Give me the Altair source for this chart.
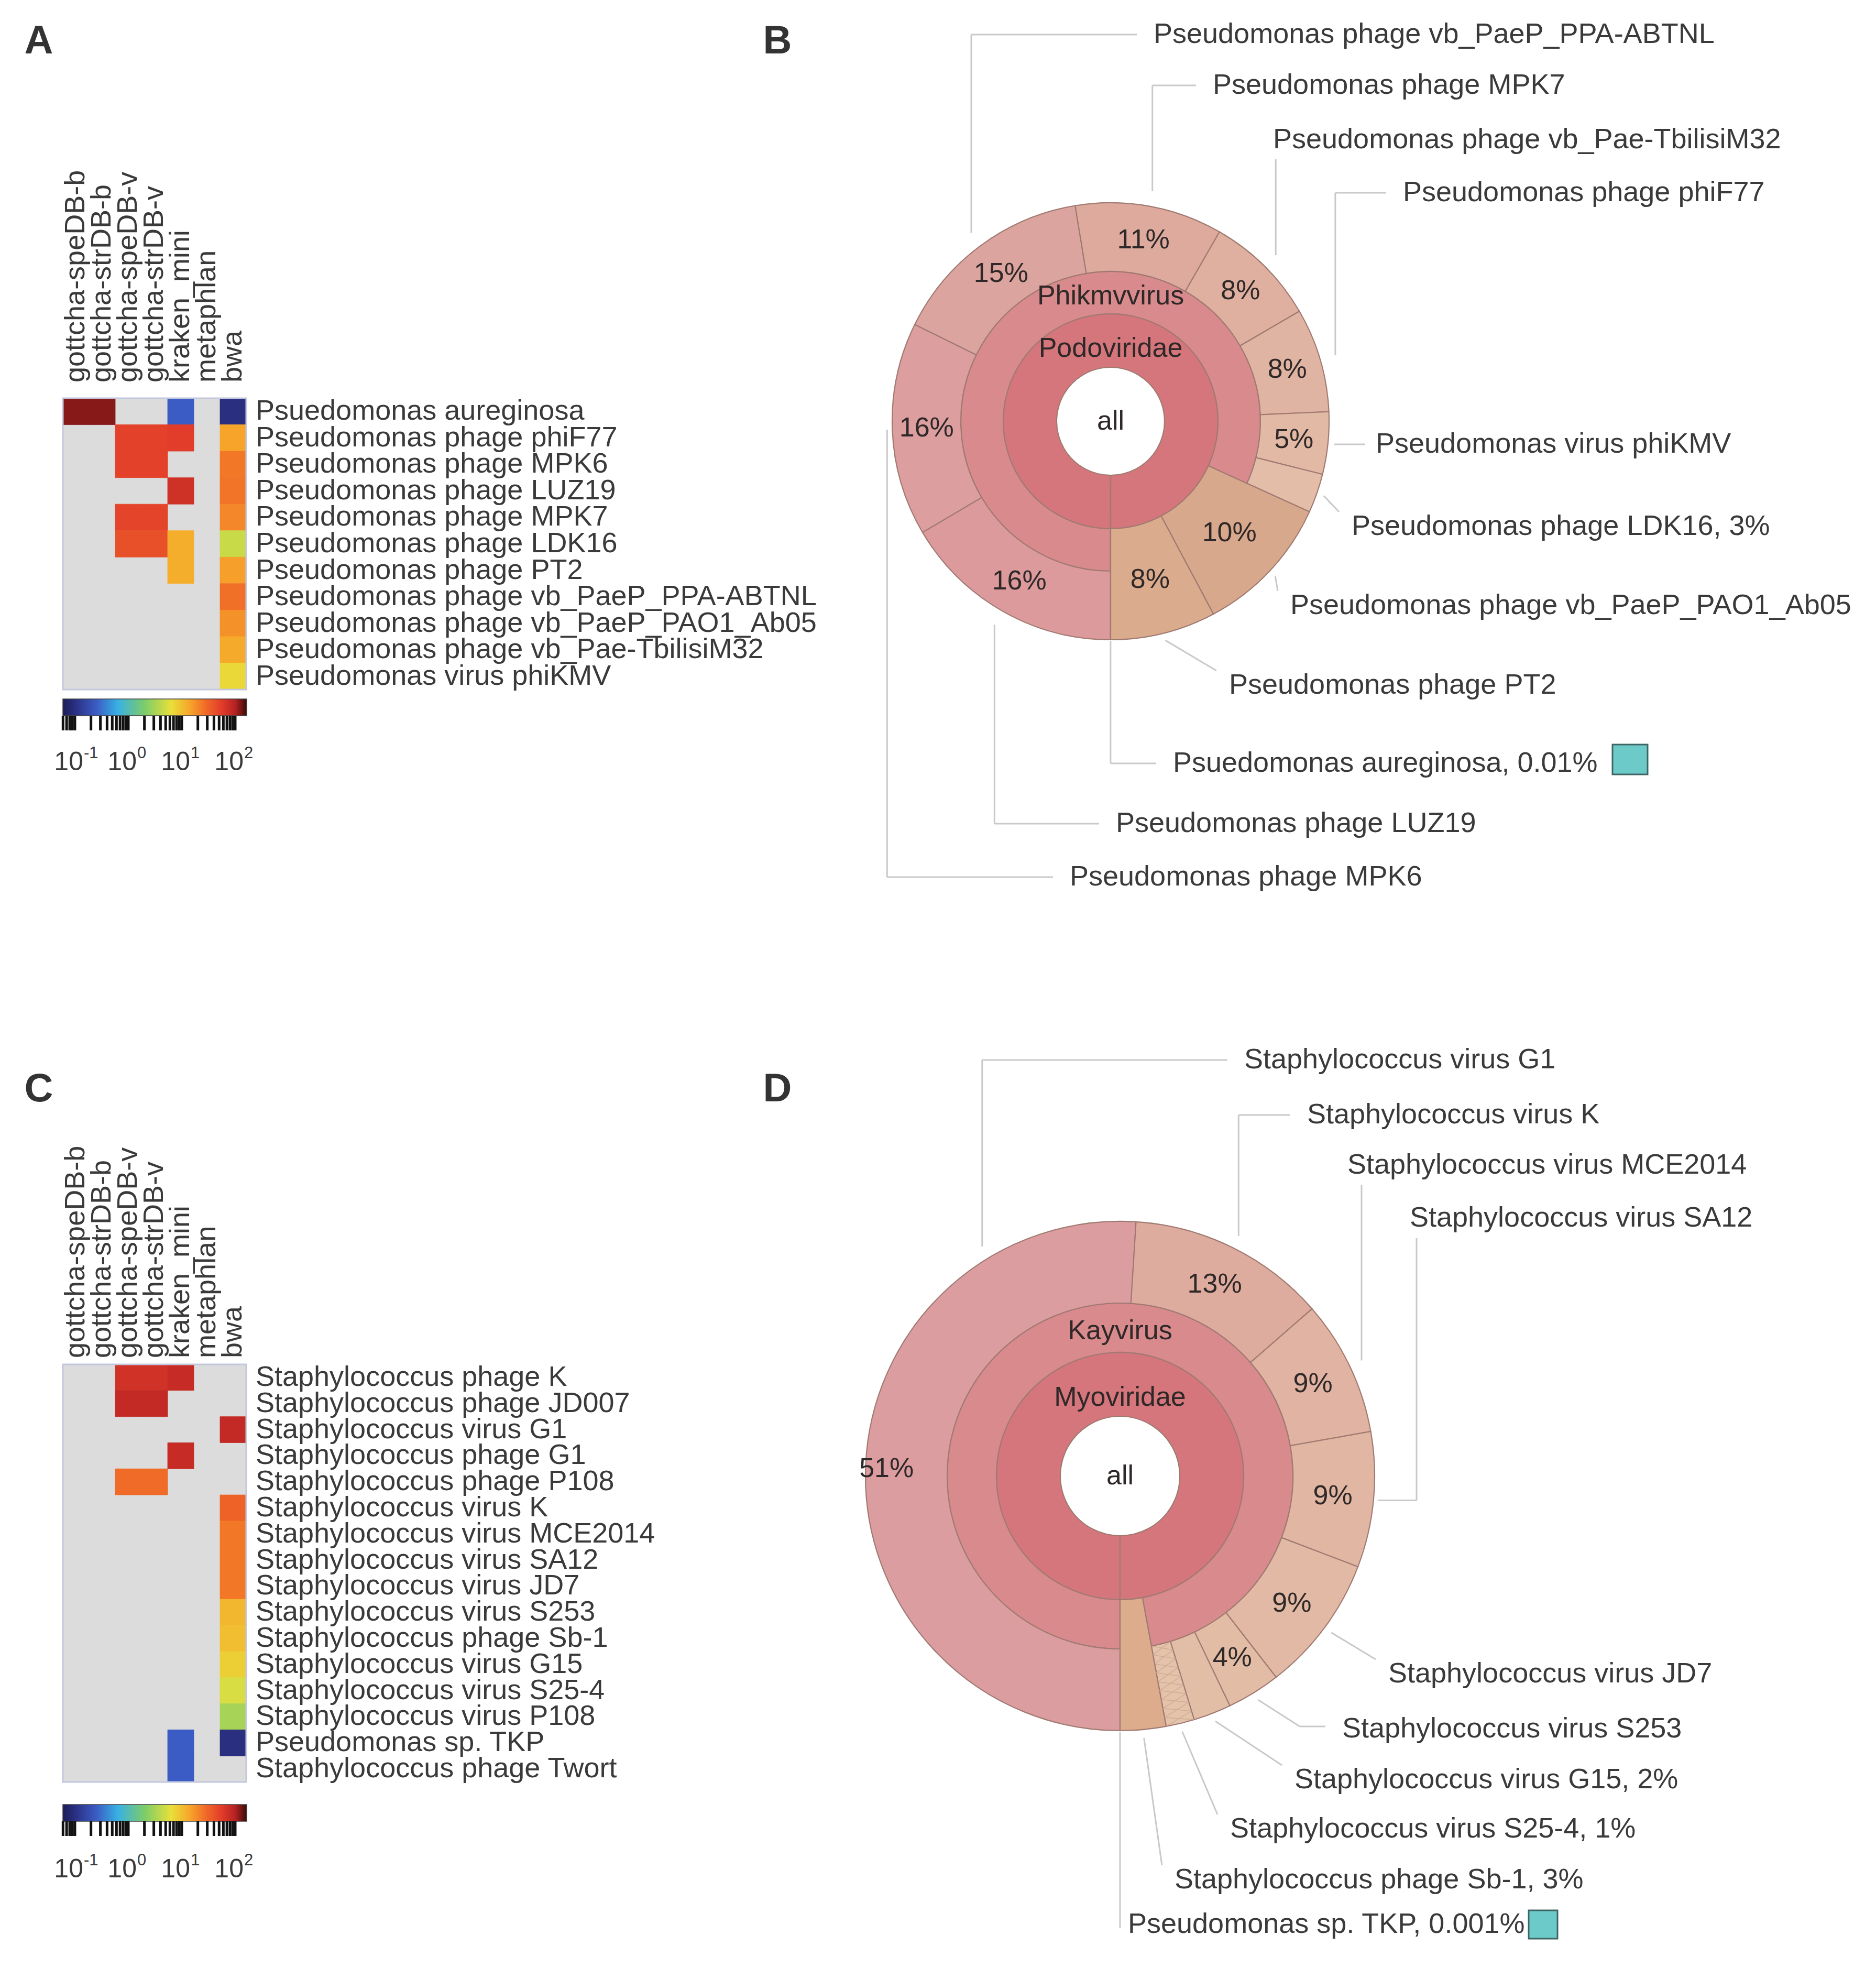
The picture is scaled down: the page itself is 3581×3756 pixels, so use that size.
import math
import altair as alt
import pandas as pd

W, H = 3565, 3740          # plot area = page minus the 8px margin
M = 8                      # page margin (reference pixel coords are shifted by this)
FONT = "Liberation Sans"
INK = "#3a3a3a"
INK2 = "#2e2828"

# ====================== DATA ======================
tools = ["gottcha-speDB-b", "gottcha-strDB-b", "gottcha-speDB-v",
         "gottcha-strDB-v", "kraken_mini", "metaphlan", "bwa"]

# ---- panel A heatmap: log10 relative abundance (None = not reported) ----
A_species = ["Psuedomonas aureginosa", "Pseudomonas phage phiF77",
             "Pseudomonas phage MPK6", "Pseudomonas phage LUZ19",
             "Pseudomonas phage MPK7", "Pseudomonas phage LDK16",
             "Pseudomonas phage PT2", "Pseudomonas phage vb_PaeP_PPA-ABTNL",
             "Pseudomonas phage vb_PaeP_PAO1_Ab05",
             "Pseudomonas phage vb_Pae-TbilisiM32", "Pseudomonas virus phiKMV"]
N = None
A_gottcha_speDB_b = [2.08, N, N, N, N, N, N, N, N, N, N]
A_gottcha_strDB_b = [2.08, N, N, N, N, N, N, N, N, N, N]
A_gottcha_speDB_v = [N, 1.72, 1.72, N, 1.70, 1.62, N, N, N, N, N]
A_gottcha_strDB_v = [N, 1.72, 1.72, N, 1.70, 1.62, N, N, N, N, N]
A_kraken_mini = [-0.6, 1.75, N, 1.86, N, 1.10, 1.10, N, N, N, N]
A_metaphlan = [N, N, N, N, N, N, N, N, N, N, N]
A_bwa = [-1.0, 1.15, 1.38, 1.40, 1.30, 0.65, 1.18, 1.42, 1.25, 1.12, 0.85]

# ---- panel C heatmap ----
C_species = ["Staphylococcus phage K", "Staphylococcus phage JD007",
             "Staphylococcus virus G1", "Staphylococcus phage G1",
             "Staphylococcus phage P108", "Staphylococcus virus K",
             "Staphylococcus virus MCE2014", "Staphylococcus virus SA12",
             "Staphylococcus virus JD7", "Staphylococcus virus S253",
             "Staphylococcus phage Sb-1", "Staphylococcus virus G15",
             "Staphylococcus virus S25-4", "Staphylococcus virus P108",
             "Pseudomonas sp. TKP", "Staphylococcus phage Twort"]
C_gottcha_speDB_b = [N, N, N, N, N, N, N, N, N, N, N, N, N, N, N, N]
C_gottcha_strDB_b = [N, N, N, N, N, N, N, N, N, N, N, N, N, N, N, N]
C_gottcha_speDB_v = [1.85, 1.92, N, N, 1.45, N, N, N, N, N, N, N, N, N, N, N]
C_gottcha_strDB_v = [1.85, 1.92, N, N, 1.45, N, N, N, N, N, N, N, N, N, N, N]
C_kraken_mini = [1.90, N, N, 1.90, N, N, N, N, N, N, N, N, N, N, -0.6, -0.6]
C_metaphlan = [N, N, N, N, N, N, N, N, N, N, N, N, N, N, N, N]
C_bwa = [N, N, 1.92, N, N, 1.50, 1.38, 1.38, 1.38, 1.05, 1.00, 0.90, 0.72, 0.50, -1.0, N]

# colour key ticks (decades) and exponent labels
key_decades = [-1, 0, 1, 2]
key_exponents = ["-1", "0", "1", "2"]

# ---- panel B sunburst (share of reads, %), clockwise from 6 o'clock ----
B_taxa = ["Psuedomonas aureginosa", "Pseudomonas phage LUZ19", "Pseudomonas phage MPK6",
          "Pseudomonas phage vb_PaeP_PPA-ABTNL", "Pseudomonas phage MPK7",
          "Pseudomonas phage vb_Pae-TbilisiM32", "Pseudomonas phage phiF77",
          "Pseudomonas virus phiKMV", "Pseudomonas phage LDK16",
          "Pseudomonas phage vb_PaeP_PAO1_Ab05", "Pseudomonas phage PT2"]
B_share = [0.01, 16.5, 15.8, 15.1, 10.9, 8.3, 7.7, 4.6, 2.9, 10.4, 7.8]
B_pct = ["", "16%", "16%", "15%", "11%", "8%", "8%", "5%", "", "10%", "8%"]
B_genus = [None, "Phikmvvirus", "Phikmvvirus", "Phikmvvirus", "Phikmvvirus",
           "Phikmvvirus", "Phikmvvirus", "Phikmvvirus", "Phikmvvirus", None, None]
B_family = [None, "Podoviridae", "Podoviridae", "Podoviridae", "Podoviridae",
            "Podoviridae", "Podoviridae", "Podoviridae", "Podoviridae",
            "Podoviridae", "Podoviridae"]
B_callout = ["Psuedomonas aureginosa, 0.01%", "Pseudomonas phage LUZ19",
             "Pseudomonas phage MPK6", "Pseudomonas phage vb_PaeP_PPA-ABTNL",
             "Pseudomonas phage MPK7", "Pseudomonas phage vb_Pae-TbilisiM32",
             "Pseudomonas phage phiF77", "Pseudomonas virus phiKMV",
             "Pseudomonas phage LDK16, 3%", "Pseudomonas phage vb_PaeP_PAO1_Ab05",
             "Pseudomonas phage PT2"]

# ---- panel D sunburst ----
D_taxa = ["Pseudomonas sp. TKP", "Staphylococcus virus G1", "Staphylococcus virus K",
          "Staphylococcus virus MCE2014", "Staphylococcus virus SA12",
          "Staphylococcus virus JD7", "Staphylococcus virus S253",
          "Staphylococcus virus G15", "Staphylococcus virus S25-4",
          "Staphylococcus phage Sb-1"]
D_share = [0.001, 51.0, 12.6, 8.6, 8.6, 8.7, 3.4, 2.4, 1.8, 2.9]
D_pct = ["", "51%", "13%", "9%", "9%", "9%", "4%", "", "", ""]
D_genus = [None, "Kayvirus", "Kayvirus", "Kayvirus", "Kayvirus", "Kayvirus",
           "Kayvirus", "Kayvirus", "Kayvirus", None]
D_family = [None, "Myoviridae", "Myoviridae", "Myoviridae", "Myoviridae",
            "Myoviridae", "Myoviridae", "Myoviridae", "Myoviridae", "Myoviridae"]
D_callout = ["Pseudomonas sp. TKP, 0.001%", "Staphylococcus virus G1",
             "Staphylococcus virus K", "Staphylococcus virus MCE2014",
             "Staphylococcus virus SA12", "Staphylococcus virus JD7",
             "Staphylococcus virus S253", "Staphylococcus virus G15, 2%",
             "Staphylococcus virus S25-4, 1%", "Staphylococcus phage Sb-1, 3%"]

# ====================== STYLE / LAYOUT ======================
HEAT_V = [-1.225, -1.0, -0.6, -0.2, 0.3, 0.8, 1.15, 1.45, 1.75, 2.0, 2.216]
HEAT_C = ["#1b1c58", "#2a2f80", "#3a5cc4", "#38b0e4", "#7ccc6a", "#e8e03a",
          "#f7a52a", "#f06a28", "#e23c2a", "#b42222", "#3a0a0a"]
GRID_BG = "#dcdcdc"

HM_A = dict(x0=120, x1=470, y0=760, y1=1316, lab_x=488, col_y=730,
            cb_x1=471, cb_y0=1334, cb_y1=1366, rug_y1=1394, cb_lab_y=1455)
HM_C = dict(x0=120, x1=470, y0=2604, y1=3401, lab_x=488, col_y=2592,
            cb_x1=471, cb_y0=3444, cb_y1=3476, rug_y1=3504, cb_lab_y=3568)

RING1_COLOR = "#d4767b"
RING2_COLOR = "#d98a8d"
B_color = ["#6ccac9", "#dc9a9c", "#dc9e9f", "#dca49e", "#deaa9e", "#dfb0a0",
           "#e0b4a2", "#e2b9a5", "#e3bda8", "#d8a88c", "#daab8c"]
D_color = ["#6ccac9", "#dc9da0", "#deac9f", "#e0b3a2", "#e1b7a3", "#e1b9a4",
           "#e2bca5", "#e3bea6", "#e5c3ab", "#dcac8c"]
HATCHED = {"D": [8]}   # S25-4 wedge is cross-hatched in the reference

B_GEO = dict(cx=2120, cy=804, r0=103, r1=205, r2=286, R=417)
D_GEO = dict(cx=2138, cy=2817, r0=114, r1=236, r2=330, R=486)

# callout label placement: (left x, centre y, leader style, anchor gap)
B_CALL = [(2239, 1457, "elbow", 2), (2130, 1572, "elbow", 30), (2042, 1674, "elbow", 10),
          (2202, 66, "elbow", 30), (2315, 163, "elbow", 30), (2430, 267, "v", 30),
          (2678, 368, "elbow", 30), (2626, 848, "h", 12), (2580, 1005, "direct", 14),
          (2463, 1156, "direct", 14), (2346, 1308, "direct", 14)]
D_CALL = [(2153, 3673, "vdown", 2), (2375, 2023, "elbow", 25), (2495, 2128, "elbow", 25),
          (2572, 2224, "v", 25), (2691, 2325, "hv", 8), (2650, 3195, "direct", 16),
          (2562, 3300, "dh", 16), (2471, 3397, "direct", 16), (2348, 3491, "direct", 16),
          (2242, 3588, "direct", 16)]
B_ANCHOR_DEG = {}
D_ANCHOR_DEG = {1: 329.0}
B_PCT_R = {}
D_PCT_R = {1: 446}
B_SWATCH = (3078, 1421, 3145, 1478)
D_SWATCH = (2918, 3646, 2973, 3700)

LETTERS = [("A", 74, 79), ("B", 1484, 79), ("C", 74, 2079), ("D", 1484, 2079)]


# ====================== HELPERS ======================
def px_x(f):
    return alt.X(f, type="quantitative", axis=None,
                 scale=alt.Scale(domain=[M, M + W], range=[0, W], nice=False, zero=False))


def px_y(f):
    return alt.Y(f, type="quantitative", axis=None,
                 scale=alt.Scale(domain=[M, M + H], range=[0, H], nice=False, zero=False))


def heatmap_layers(species, cols, L):
    xs = alt.Scale(domain=tools, range=[L["x0"] - M, L["x1"] - M], paddingInner=0, paddingOuter=0)
    ys = alt.Scale(domain=species, range=[L["y0"] - M, L["y1"] - M], paddingInner=0, paddingOuter=0)
    X = alt.X("tool:N", scale=xs, axis=None)
    Y = alt.Y("sp:N", scale=ys, axis=None)
    bg = pd.DataFrame([{"tool": t, "sp": s} for t in tools for s in species])
    rows = []
    for t, vals in zip(tools, cols):
        for s, v in zip(species, vals):
            if v is not None:
                rows.append({"tool": t, "sp": s, "v": v})
    cells = pd.DataFrame(rows)
    cscale = alt.Scale(domain=HEAT_V, range=HEAT_C, interpolate="rgb")
    out = []
    out.append(alt.Chart(bg).mark_rect(color=GRID_BG, stroke=GRID_BG, strokeWidth=1)
               .encode(x=X, y=Y))
    out.append(alt.Chart(cells).mark_rect(strokeWidth=0.8).encode(
        x=X, y=Y,
        color=alt.Color("v:Q", legend=None, scale=cscale),
        stroke=alt.Stroke("v:Q", legend=None, scale=cscale)))
    frame = pd.DataFrame([{"x0": L["x0"], "x1": L["x1"], "y0": L["y0"], "y1": L["y1"]}])
    out.append(alt.Chart(frame).mark_rect(fill="transparent", stroke="#c3c7dd", strokeWidth=3)
               .encode(x=px_x("x0"), x2="x1", y=px_y("y0"), y2="y1"))
    out.append(alt.Chart(pd.DataFrame({"sp": species})).mark_text(
        align="left", baseline="middle", font=FONT, fontSize=54, color=INK)
        .encode(x=alt.value(L["lab_x"] - M), y=Y, text="sp:N"))
    out.append(alt.Chart(pd.DataFrame({"tool": tools})).mark_text(
        angle=270, align="left", baseline="middle", font=FONT, fontSize=54, color=INK)
        .encode(x=X, y=alt.value(L["col_y"] - M), text="tool:N"))

    # colour key
    lo, hi = HEAT_V[0], HEAT_V[-1]
    cbs = alt.Scale(domain=[lo, hi], range=[L["x0"] - M, L["cb_x1"] - M], nice=False, zero=False)
    grad = alt.LinearGradient(
        gradient="linear", x1=0, x2=1, y1=0, y2=0,
        stops=[alt.GradientStop(color=c, offset=(v - lo) / (hi - lo)) for v, c in zip(HEAT_V, HEAT_C)])
    g = pd.DataFrame([{"v0": lo, "v1": hi, "y0": L["cb_y0"], "y1": L["cb_y1"]}])
    out.append(alt.Chart(g).mark_rect(fill=grad, stroke="#444444", strokeWidth=1.5)
               .encode(x=alt.X("v0:Q", scale=cbs, axis=None), x2="v1", y=px_y("y0"), y2="y1"))
    rug = []
    for n in range(-2, 3):
        for k in range(1, 10):
            v = math.log10(k * 10 ** n)
            if lo <= v <= hi:
                rug.append({"v": v, "y0": L["cb_y1"], "y1": L["rug_y1"]})
    out.append(alt.Chart(pd.DataFrame(rug)).mark_rule(color="#111111", strokeWidth=5)
               .encode(x=alt.X("v:Q", scale=cbs, axis=None), y=px_y("y0"), y2="y1"))
    labs = pd.DataFrame({"v": key_decades, "e": key_exponents,
                         "y": [L["cb_lab_y"]] * len(key_decades)})
    out.append(alt.Chart(labs).mark_text(align="right", baseline="middle", font=FONT,
                                         fontSize=50, color=INK, dx=16)
               .encode(x=alt.X("v:Q", scale=cbs, axis=None), y=px_y("y"), text=alt.value("10")))
    out.append(alt.Chart(labs).mark_text(align="left", baseline="middle", font=FONT,
                                         fontSize=31, color=INK, dx=17, dy=-17)
               .encode(x=alt.X("v:Q", scale=cbs, axis=None), y=px_y("y"), text="e:N"))
    return out


def runs(keys):
    out, i = [], 0
    while i < len(keys):
        j = i
        while j + 1 < len(keys) and keys[j + 1] == keys[i]:
            j += 1
        if keys[i] is not None:
            out.append((keys[i], i, j))
        i = j + 1
    return out


def sunburst_layers(taxa, share, pct, genus, family, callout, colors, G, CALL,
                    anchor_deg, pct_r, swatch, hatched):
    cx, cy, r0, r1, r2, R = G["cx"], G["cy"], G["r0"], G["r1"], G["r2"], G["R"]
    cum = [0.0]
    for s in share:
        cum.append(cum[-1] + s)
    total = cum[-1]

    def ang(t):
        return math.pi + 2 * math.pi * t / total

    def pt(a, r):
        return cx + r * math.sin(a), cy - r * math.cos(a)

    arcs = []
    for name, i, j in runs(family):
        arcs.append(dict(t0=cum[i], t1=cum[j + 1], ri=r0, ro=r1, col=RING1_COLOR))
    for name, i, j in runs(genus):
        arcs.append(dict(t0=cum[i], t1=cum[j + 1], ri=r1, ro=r2, col=RING2_COLOR))
    inner = []
    for k in range(len(taxa)):
        ri = r2 if genus[k] else (r1 if family[k] else r0)
        inner.append(ri)
        arcs.append(dict(t0=cum[k], t1=cum[k + 1], ri=ri, ro=R, col=colors[k]))
    arc_df = pd.DataFrame(arcs)

    texts = [dict(x=cx, y=cy, t="all")]
    for name, i, j in runs(family):
        texts.append(dict(x=cx, y=cy - (r0 + 36), t=name))
    for name, i, j in runs(genus):
        texts.append(dict(x=cx, y=cy - ((r1 + r2) / 2 - 6), t=name))
    for k in range(len(taxa)):
        if pct[k]:
            a = ang((cum[k] + cum[k + 1]) / 2)
            r = pct_r.get(k, (inner[k] + R) / 2)
            x, y = pt(a, r)
            texts.append(dict(x=x, y=y, t=pct[k]))
    txt_df = pd.DataFrame(texts)

    segs, labels = [], []
    for k in range(len(taxa)):
        lx, ly, style, gap = CALL[k]
        a = math.radians(anchor_deg[k]) if k in anchor_deg else ang((cum[k] + cum[k + 1]) / 2)
        ax, ay = pt(a, R + gap)
        if style == "elbow":
            segs.append((ax, ay, ax, ly))
            segs.append((ax, ly, lx - 32, ly))
        elif style == "v":
            segs.append((ax, ay, ax, ly + 37))
        elif style == "vdown":
            segs.append((ax, ay, ax, ly + 7))
        elif style == "hv":
            segs.append((ax, ay, lx + 13, ay))
            segs.append((lx + 13, ay, lx + 13, ly + 38))
        elif style == "h":
            segs.append((ax, ly, lx - 20, ly))
        elif style == "dh":
            segs.append((ax, ay, lx - 81, ly - 5))
            segs.append((lx - 81, ly - 5, lx - 32, ly - 5))
        else:
            segs.append((ax, ay, lx - 24, ly - 28))
        labels.append(dict(x=lx, y=ly, t=callout[k]))
    seg_df = pd.DataFrame(segs, columns=["x", "y", "x2", "y2"])
    lab_df = pd.DataFrame(labels)

    # faint cross-hatch inside hatched wedges (short chords between radii)
    hatch = []
    for k in hatched:
        a0, a1 = ang(cum[k]), ang(cum[k + 1])
        steps = 9
        for s in range(steps):
            ra = inner[k] + (R - inner[k]) * s / steps
            rb = inner[k] + (R - inner[k]) * (s + 1) / steps
            xa, ya = pt(a0, ra)
            xb, yb = pt(a1, rb)
            hatch.append((xa, ya, xb, yb))
            xa, ya = pt(a1, ra)
            xb, yb = pt(a0, rb)
            hatch.append((xa, ya, xb, yb))
    hatch_df = pd.DataFrame(hatch, columns=["x", "y", "x2", "y2"])

    out = []
    out.append(alt.Chart(seg_df).mark_rule(color="#c9c9c9", strokeWidth=3)
               .encode(x=px_x("x"), y=px_y("y"), x2="x2", y2="y2"))
    out.append(alt.Chart(arc_df).mark_arc(stroke="#a07a72", strokeWidth=2.2).encode(
        theta=alt.Theta("t0:Q", stack=None,
                        scale=alt.Scale(domain=[0, total], range=[math.pi, 3 * math.pi])),
        theta2="t1:Q",
        radius=alt.Radius("ro:Q", scale=alt.Scale(type="linear", domain=[0, 1000],
                                                  range=[0, 1000], zero=True)),
        radius2="ri:Q",
        color=alt.Color("col:N", scale=None),
        x=alt.value(cx - M), y=alt.value(cy - M)))
    if len(hatch_df):
        out.append(alt.Chart(hatch_df).mark_rule(color="#c9a890", strokeWidth=1.5, opacity=0.8)
                   .encode(x=px_x("x"), y=px_y("y"), x2="x2", y2="y2"))
    out.append(alt.Chart(txt_df).mark_text(align="center", baseline="middle", font=FONT,
                                           fontSize=52, color=INK2)
               .encode(x=px_x("x"), y=px_y("y"), text="t:N"))
    out.append(alt.Chart(lab_df).mark_text(align="left", baseline="middle", font=FONT,
                                           fontSize=54, color=INK)
               .encode(x=px_x("x"), y=px_y("y"), text="t:N"))
    sw = pd.DataFrame([dict(x0=swatch[0], y0=swatch[1], x1=swatch[2], y1=swatch[3])])
    out.append(alt.Chart(sw).mark_rect(fill=colors[0], stroke="#3f6464", strokeWidth=3)
               .encode(x=px_x("x0"), x2="x1", y=px_y("y0"), y2="y1"))
    return out


# ====================== BUILD ======================
layers = []
layers += heatmap_layers(A_species, [A_gottcha_speDB_b, A_gottcha_strDB_b, A_gottcha_speDB_v,
                                     A_gottcha_strDB_v, A_kraken_mini, A_metaphlan, A_bwa], HM_A)
layers += heatmap_layers(C_species, [C_gottcha_speDB_b, C_gottcha_strDB_b, C_gottcha_speDB_v,
                                     C_gottcha_strDB_v, C_kraken_mini, C_metaphlan, C_bwa], HM_C)
layers += sunburst_layers(B_taxa, B_share, B_pct, B_genus, B_family, B_callout, B_color,
                          B_GEO, B_CALL, B_ANCHOR_DEG, B_PCT_R, B_SWATCH, [])
layers += sunburst_layers(D_taxa, D_share, D_pct, D_genus, D_family, D_callout, D_color,
                          D_GEO, D_CALL, D_ANCHOR_DEG, D_PCT_R, D_SWATCH, HATCHED["D"])

letters = pd.DataFrame(LETTERS, columns=["t", "x", "y"])
layers.append(alt.Chart(letters).mark_text(align="center", baseline="middle", font=FONT,
                                           fontSize=76, fontWeight="bold", color="#333333")
              .encode(x=px_x("x"), y=px_y("y"), text="t:N"))

chart = (alt.layer(*layers)
         .resolve_scale(x="independent", y="independent", color="independent",
                        stroke="independent", theta="independent", radius="independent")
         .properties(width=W, height=H, padding=0)
         .configure_view(strokeWidth=0))

chart.save("out.html", embed_options={"renderer": "svg", "actions": False})
